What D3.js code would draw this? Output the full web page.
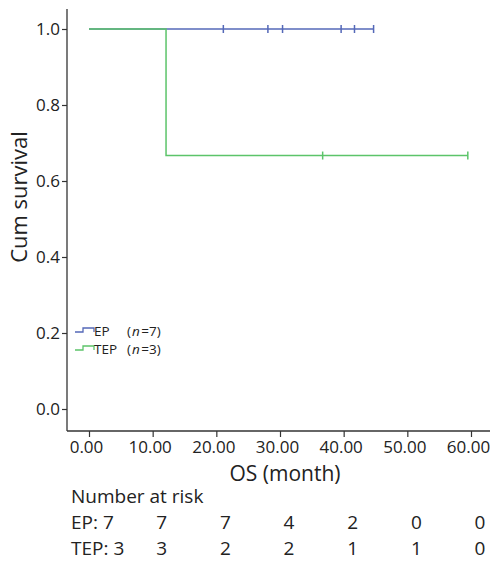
<!DOCTYPE html>
<meta charset="utf-8">
<style>
body { margin: 0; background: #fff; }
svg text { font-family: "Open Sans", "Noto Sans", sans-serif; fill: #222; }
.axis path, .axis line { fill: none; stroke: #333; stroke-width: 1.2; }
.axis text { font-size: 17px; }
</style>
<svg id="chart" width="490" height="561"></svg>
<script src="https://d3js.org/d3.v7.min.js"></script>
<script>
// survival steps: [time, survival]
var epSteps = [[0, 1], [44.7, 1]];
var epCensored = [21.1, 28.1, 30.4, 39.6, 41.7, 44.7];
var tepSteps = [[0, 1], [12.1, 1], [12.1, 0.667], [59.5, 0.667]];
var tepCensored = [[36.7, 0.667], [59.5, 0.667]];

var xTicks = [0, 10, 20, 30, 40, 50, 60];
var yTicks = [0, 0.2, 0.4, 0.6, 0.8, 1.0];
var riskEP = [7, 7, 7, 4, 2, 0, 0];
var riskTEP = [3, 3, 2, 2, 1, 1, 0];

var blue = "#5468b8", green = "#5cc46a";

var svg = d3.select("#chart");
var x = d3.scaleLinear().domain([0, 60]).range([89, 471]);
var y = d3.scaleLinear().domain([0, 1]).range([409, 29]);

// axes lines drawn as frame
svg.append("line").attr("x1", 67).attr("x2", 67).attr("y1", 9).attr("y2", 431)
    .attr("stroke", "#333").attr("stroke-width", 1.3);
svg.append("line").attr("x1", 67).attr("x2", 490).attr("y1", 431).attr("y2", 431)
    .attr("stroke", "#333").attr("stroke-width", 1.3);

var yAxis = svg.append("g").attr("class", "axis")
    .attr("transform", "translate(67,0)")
    .call(d3.axisLeft(y).tickValues(yTicks).tickFormat(d3.format(".1f")).tickSize(5).tickPadding(2));
yAxis.select(".domain").remove();

var xAxis = svg.append("g").attr("class", "axis")
    .attr("transform", "translate(0,431)")
    .call(d3.axisBottom(x).tickValues(xTicks).tickFormat(d3.format(".2f")).tickSize(6).tickPadding(4));
xAxis.select(".domain").remove();
xAxis.selectAll(".tick text").attr("dx", -3);

svg.append("text").attr("transform", "translate(27,197) rotate(-90)")
    .attr("text-anchor", "middle").style("font-size", "22px").text("Cum survival");
svg.append("text").attr("x", 285).attr("y", 481)
    .attr("text-anchor", "middle").style("font-size", "21px").text("OS (month)");

var line = d3.line().x(function (d) { return x(d[0]); }).y(function (d) { return y(d[1]); });

svg.append("path").datum(epSteps).attr("d", line)
    .attr("fill", "none").attr("stroke", blue).attr("stroke-width", 1.5);
svg.selectAll(".epc").data(epCensored).enter().append("line")
    .attr("x1", function (d) { return x(d); }).attr("x2", function (d) { return x(d); })
    .attr("y1", y(1) - 4).attr("y2", y(1) + 4)
    .attr("stroke", blue).attr("stroke-width", 1.5);

svg.append("path").datum(tepSteps).attr("d", line)
    .attr("fill", "none").attr("stroke", green).attr("stroke-width", 1.5);
svg.selectAll(".tepc").data(tepCensored).enter().append("line")
    .attr("x1", function (d) { return x(d[0]); }).attr("x2", function (d) { return x(d[0]); })
    .attr("y1", function (d) { return y(d[1]) - 4; }).attr("y2", function (d) { return y(d[1]) + 4; })
    .attr("stroke", green).attr("stroke-width", 1.5);

// legend
var legend = [
  {name: "EP", n: 7, color: blue},
  {name: "TEP", n: 3, color: green}
];
legend.forEach(function (d, i) {
  var g = svg.append("g").attr("transform", "translate(75," + (331 + i * 18) + ")");
  g.append("path").attr("d", "M0,1 H8 V-3 H19 V1")
      .attr("fill", "none").attr("stroke", d.color).attr("stroke-width", 1.3);
  g.append("text").attr("x", 19).attr("y", 5).style("font-size", "13.5px").text(d.name);
  var p = g.append("text").attr("x", 52).attr("y", 5).style("font-size", "13.5px").text("(");
  var px = 52 + p.node().getComputedTextLength() + 1;
  var n = g.append("text").attr("x", px).attr("y", 5).style("font-size", "13.5px")
      .style("font-style", "italic").text("n");
  px += n.node().getComputedTextLength() + 1.5;
  g.append("text").attr("x", px).attr("y", 5).style("font-size", "13.5px").text("=" + d.n + ")");
});

// number at risk
svg.append("text").attr("x", 71).attr("y", 503).style("font-size", "19px").text("Number at risk");
function riskRow(label, vals, yy) {
  svg.append("text").attr("x", 71).attr("y", yy).style("font-size", "19px").text(label + ": " + vals[0]);
  svg.selectAll(null).data(vals.slice(1)).enter().append("text")
      .attr("x", function (d, i) { return x(xTicks[i + 1]) + 9; })
      .attr("y", yy).attr("text-anchor", "middle").style("font-size", "19px")
      .text(function (d) { return d; });
}
riskRow("EP", riskEP, 529);
riskRow("TEP", riskTEP, 555);
</script>
